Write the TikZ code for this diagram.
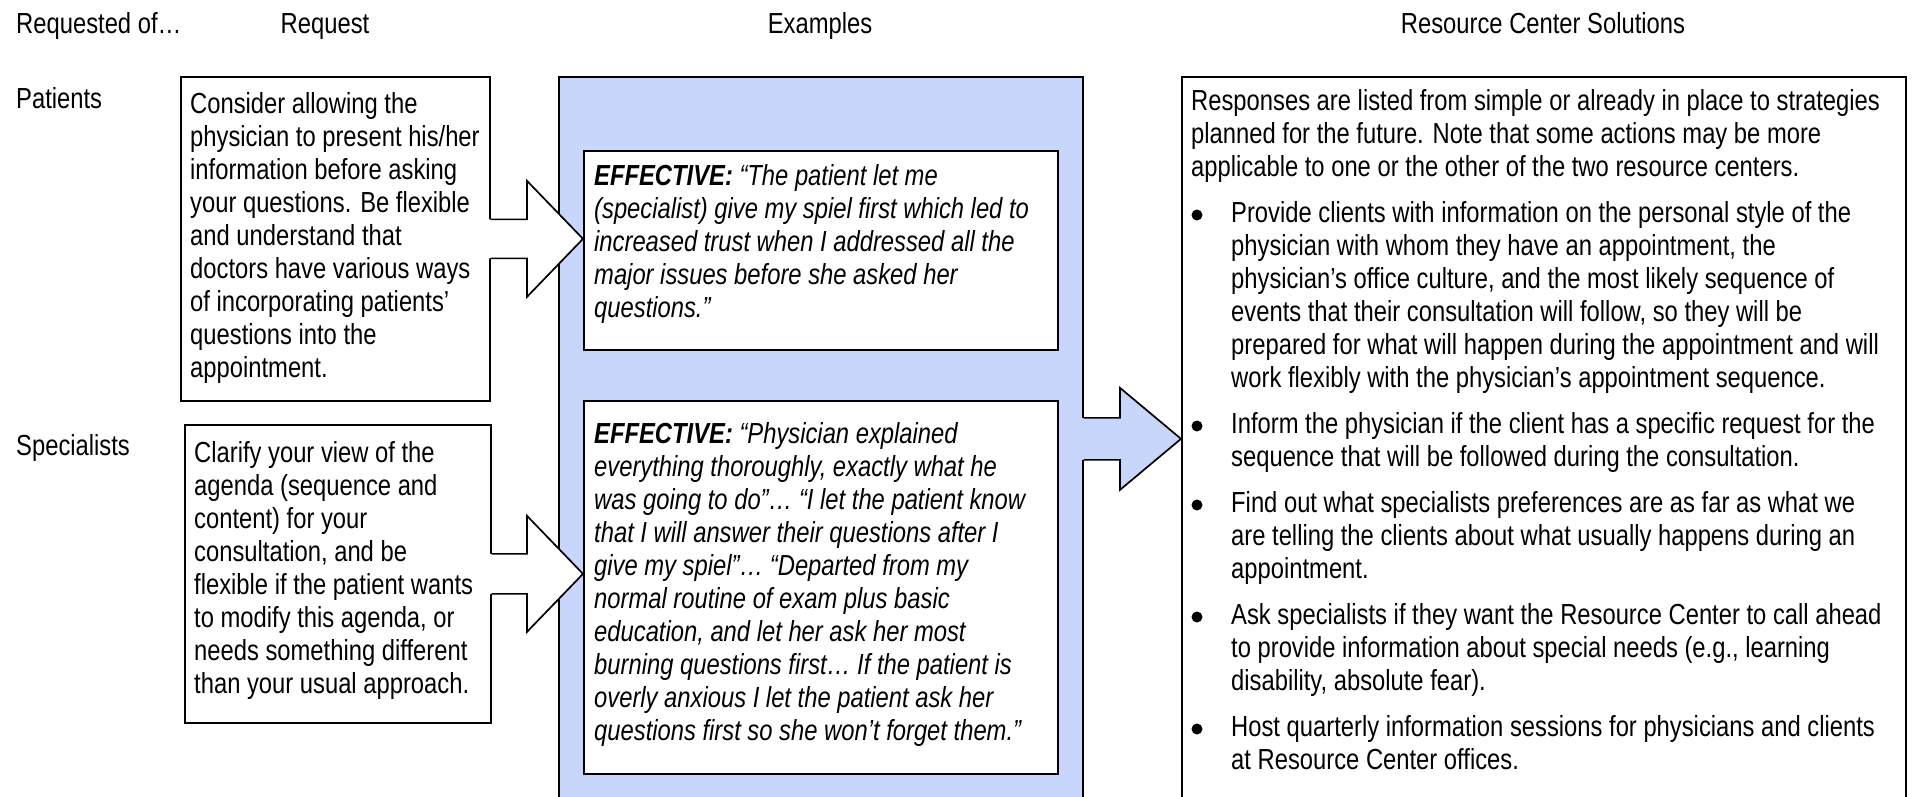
\documentclass[tikz,border=0pt]{standalone}
\usepackage{fontspec}
\setmainfont{Liberation Sans}[FakeStretch=0.82]
\usetikzlibrary{calc}

\definecolor{exfill}{RGB}{201,214,252}
\newcommand{\bodyfont}{\fontsize{29}{33}\selectfont}

\tikzset{
  box/.style={draw=black, line width=1.7pt, fill=white, inner sep=0pt, anchor=north west},
  bluebox/.style={box, fill=exfill},
  txt/.style={anchor=base west, inner sep=0pt, font=\bodyfont},
  head/.style={anchor=base, inner sep=0pt, font=\bodyfont},
  arrowline/.style={draw=black, line width=1.7pt, line join=miter},
}

% block arrow: #1 fill, #2 source node, #3 target node,
% #4 head length, #5 head half height, #6 shaft half height
\newcommand{\blockarrow}[6]{%
  \fill[#1] let \p1=(#2.east), \p2=(#3.west) in
    (\x1-4pt,\y1+#6pt) -- (\x2-#4pt,\y1+#6pt) -- (\x2-#4pt,\y1+#5pt) -- (\x2,\y1)
    -- (\x2-#4pt,\y1-#5pt) -- (\x2-#4pt,\y1-#6pt) -- (\x1-4pt,\y1-#6pt) -- cycle;
  \draw[arrowline] let \p1=(#2.east), \p2=(#3.west) in
    (\x1,\y1+#6pt) -- (\x2-#4pt,\y1+#6pt) -- (\x2-#4pt,\y1+#5pt) -- (\x2,\y1)
    -- (\x2-#4pt,\y1-#5pt) -- (\x2-#4pt,\y1-#6pt) -- (\x1,\y1-#6pt);
}

\begin{document}
\begin{tikzpicture}[x=1pt,y=-1pt]
\clip (0,0) rectangle (1912,796);
\fill[white] (0,0) rectangle (1912,796);

% column headings
\node[head, anchor=base west] (hreqof) at (16,33) {Requested of…};
\node[head] (hreq) at (325,33) {Request};
\node[head] (hex) at (820,33) {Examples};
\node[head] (hsol) at (1543,33) {Resource Center Solutions};

% row labels
\node[txt] (lpat) at (16,108) {Patients};
\node[txt] (lspec) at (16,455) {Specialists};

% request boxes
\node[box, minimum width=309pt, minimum height=324pt] (pat) at (180,76) {};
\node[txt] (pattxt) at (190,113) {\begin{tabular}[t]{@{}l@{}}
Consider allowing the\\
physician to present his/her\\
information before asking\\
your questions. Be flexible\\
and understand that\\
doctors have various ways\\
of incorporating patients’\\
questions into the\\
appointment.
\end{tabular}};

\node[box, minimum width=306pt, minimum height=298pt] (spec) at (184,424) {};
\node[txt] (spectxt) at (194,462) {\begin{tabular}[t]{@{}l@{}}
Clarify your view of the\\
agenda (sequence and\\
content) for your\\
consultation, and be\\
flexible if the patient wants\\
to modify this agenda, or\\
needs something different\\
than your usual approach.
\end{tabular}};

% examples column
\node[bluebox, minimum width=524pt, minimum height=724pt] (ex) at (558,76) {};
\node[box, minimum width=474pt, minimum height=199pt] (eff1) at (583,150) {};
\node[txt] (eff1txt) at (594,185) {\itshape\begin{tabular}[t]{@{}l@{}}
\textbf{EFFECTIVE:} “The patient let me\\
(specialist) give my spiel first which led to\\
increased trust when I addressed all the\\
major issues before she asked her\\
questions.”
\end{tabular}};

\node[box, minimum width=474pt, minimum height=373pt] (eff2) at (583,400) {};
\node[txt] (eff2txt) at (594,443) {\itshape\begin{tabular}[t]{@{}l@{}}
\textbf{EFFECTIVE:} “Physician explained\\
everything thoroughly, exactly what he\\
was going to do”… “I let the patient know\\
that I will answer their questions after I\\
give my spiel”… “Departed from my\\
normal routine of exam plus basic\\
education, and let her ask her most\\
burning questions first… If the patient is\\
overly anxious I let the patient ask her\\
questions first so she won’t forget them.”
\end{tabular}};

% solutions column
\node[box, minimum width=724pt, minimum height=724pt] (sol) at (1181,76) {};
\node[txt] (soltxt) at (1191,110) {\begin{tabular}[t]{@{}l@{}}
Responses are listed from simple or already in place to strategies\\
planned for the future. Note that some actions may be more\\
applicable to one or the other of the two resource centers.\\[13pt]
\hspace*{40pt}Provide clients with information on the personal style of the\\
\hspace*{40pt}physician with whom they have an appointment, the\\
\hspace*{40pt}physician’s office culture, and the most likely sequence of\\
\hspace*{40pt}events that their consultation will follow, so they will be\\
\hspace*{40pt}prepared for what will happen during the appointment and will\\
\hspace*{40pt}work flexibly with the physician’s appointment sequence.\\[13pt]
\hspace*{40pt}Inform the physician if the client has a specific request for the\\
\hspace*{40pt}sequence that will be followed during the consultation.\\[13pt]
\hspace*{40pt}Find out what specialists preferences are as far as what we\\
\hspace*{40pt}are telling the clients about what usually happens during an\\
\hspace*{40pt}appointment.\\[13pt]
\hspace*{40pt}Ask specialists if they want the Resource Center to call ahead\\
\hspace*{40pt}to provide information about special needs (e.g., learning\\
\hspace*{40pt}disability, absolute fear).\\[13pt]
\hspace*{40pt}Host quarterly information sessions for physicians and clients\\
\hspace*{40pt}at Resource Center offices.
\end{tabular}};

% list bullets
\foreach \b in {222,433,512,624,736}
  \fill (1197,\b-7) circle (5.5pt);

% block arrows
\blockarrow{white}{pat}{eff1}{56}{58}{19.5}
\blockarrow{white}{spec}{eff2}{56}{58}{20}
\blockarrow{exfill}{ex}{sol}{61}{51}{21}
\end{tikzpicture}
\end{document}
